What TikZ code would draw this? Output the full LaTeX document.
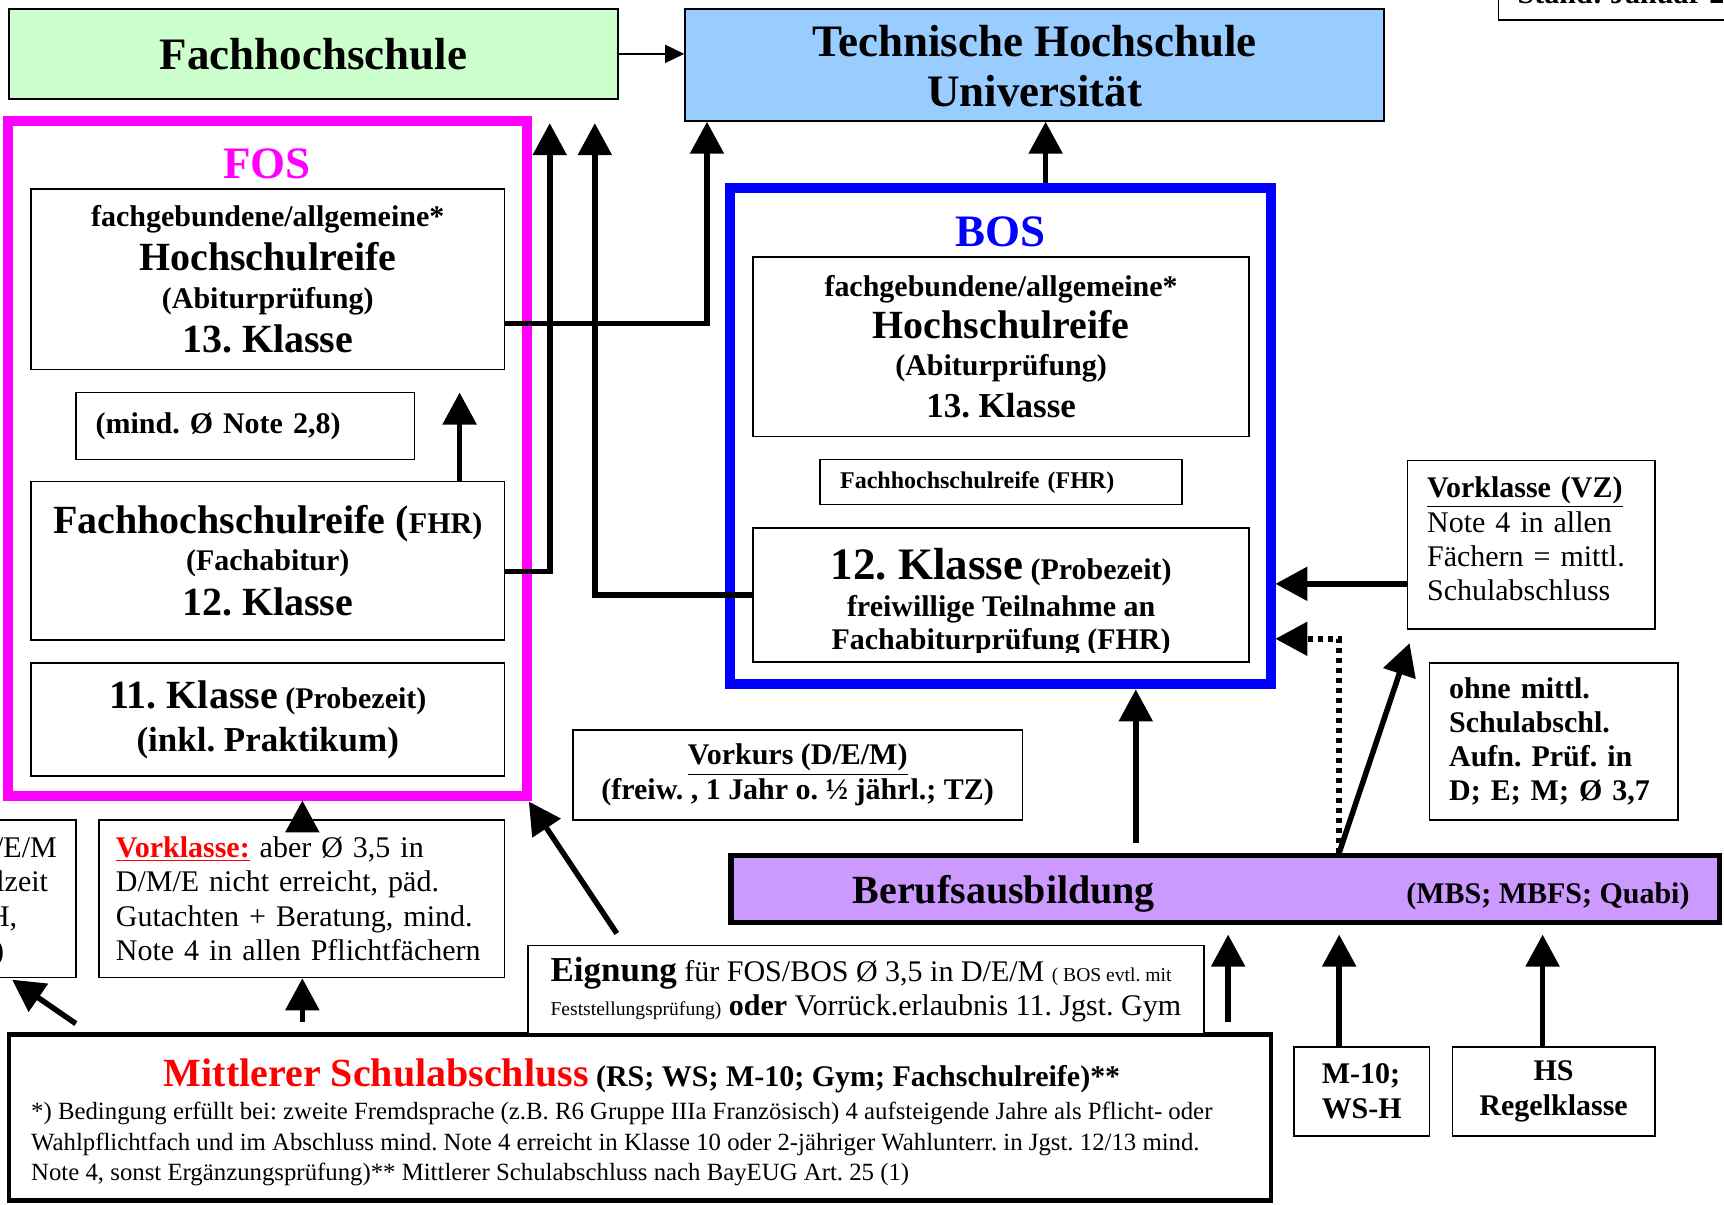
\documentclass[tikz,border=0pt]{standalone}
\usepackage{fontspec}
\setmainfont{Liberation Serif}
\frenchspacing
\usetikzlibrary{arrows.meta, positioning}
\definecolor{fhGreen}{HTML}{CCFFCC}
\definecolor{thBlue}{HTML}{99CCFF}
\definecolor{berufLila}{HTML}{CC99FF}
\definecolor{fosPink}{HTML}{FF00FF}
\definecolor{bosBlue}{HTML}{0000FF}
\newcommand{\fHuge}{\fontsize{22.5}{24.75}\selectfont\bfseries}
\newcommand{\fBig}{\fontsize{20}{22}\selectfont\bfseries}
\newcommand{\fMid}{\fontsize{15}{17}\selectfont\bfseries}
\newcommand{\fTxt}{\fontsize{15}{17.2}\selectfont}
\newcommand{\fFoot}{\fontsize{12.4}{15.1}\selectfont}
\newcommand{\fTiny}{\fontsize{9.8}{12}\selectfont}
\tikzset{
    schoolBox/.style={draw, line width=0.8pt, fill=white, inner sep=0pt, align=center},
    boxSize/.style 2 args={minimum width=#1*0.55pt, minimum height=#2*0.55pt},
    txt/.style={inner sep=0pt},
    bigArrow/.style={line width=2.75pt, -{Triangle[length=16pt, width=16.5pt]}},
    thinArrow/.style={line width=0.8pt, -{Triangle[length=9.5pt, width=9pt]}},
    dotArrow/.style={bigArrow, dash pattern=on 2.5pt off 2.5pt},
}

\begin{document}
\begin{tikzpicture}[x=0.55pt, y=-0.55pt]
    \path[use as bounding box, fill=white] (0,0) rectangle (1568,1095.1);

    \node[schoolBox, boxSize={554}{82}, fill=fhGreen, font=\fHuge] (fh) at (285,49) {Fachhochschule};
    \node[schoolBox, boxSize={636}{102}, fill=thBlue, font=\fHuge] (th) at (941,59) {\rule{0pt}{17pt}Technische Hochschule\\Universität};
    \node[schoolBox, boxSize={300}{60}, anchor=south west] (stand) at (1362,19) {};
    \node[txt, font=\fMid, anchor=base west] (standT) at (1380,3) {Stand: Januar 2};

    \node[draw=fosPink, line width=5pt, boxSize={472}{614}] (fos) at (243,417) {};
    \node[txt, text=fosPink, font=\fHuge] (fosT) at (243,149) {FOS};
    \node[schoolBox, boxSize={431}{164}, font=\fontsize{15}{19.25}\selectfont\bfseries] (fos13) at (243.5,254)
        {fachgebundene/allgemeine*\\[2.75pt]{\fBig Hochschulreife}\\(Abiturprüfung)\\[2.75pt]{\fBig 13. Klasse}};
    \node[schoolBox, boxSize={308}{61}, text width=149.6pt, align=left, font=\fMid] (mind) at (223,387.5) {(mind. Ø Note 2,8)};
    \node[schoolBox, boxSize={431}{144}, font=\fontsize{15}{18.15}\selectfont\bfseries] (fhr) at (243.5,510)
        {{\fBig Fachhochschulreife (}FHR)\\(Fachabitur)\\[4.4pt]{\fBig 12. Klasse}};
    \node[schoolBox, boxSize={431}{103}, font=\fontsize{15}{21.45}\selectfont\bfseries] (fos11) at (243.5,654.5)
        {{\fBig 11. Klasse} (Probezeit)\\{\fontsize{17.5}{20}\selectfont (inkl. Praktikum)}};

    \node[draw=bosBlue, line width=5pt, boxSize={492}{451}] (bos) at (910,396.5) {};
    \node[txt, text=bosBlue, font=\fHuge] (bosT) at (910,211) {BOS};
    \node[schoolBox, boxSize={451}{163}, font=\fontsize{15}{18.7}\selectfont\bfseries] (bos13) at (910.5,315.5)
        {fachgebundene/allgemeine*\\[2.2pt]{\fBig Hochschulreife}\\(Abiturprüfung)\\[2.2pt]{\fontsize{17.5}{20}\selectfont 13. Klasse}};
    \node[schoolBox, boxSize={329}{41}, text width=161pt, align=left, font=\fontsize{12}{14}\selectfont\bfseries] (fhrS) at (910.5,438.5) {Fachhochschulreife (FHR)};
    \node[schoolBox, boxSize={451}{122}] (bos12) at (910.5,541) {};
    \begin{scope}
        \clip (bos12.north west) rectangle (1136,593);
        \node[txt, anchor=north, align=center, font=\fontsize{15}{16.5}\selectfont\bfseries] (bos12T) at (910.5,498.4)
            {{\fHuge 12. Klasse} (Probezeit)\\[2.2pt]freiwillige Teilnahme an\\Fachabiturprüfung (FHR)};
    \end{scope}

    \node[schoolBox, boxSize={225}{153}, text width=104pt, align=left, font=\fTxt] (vz) at (1392.5,495.5)
        {{\bfseries\underline{Vorklasse (VZ)}}\\Note 4 in allen\\Fächern = mittl.\\Schulabschluss\rule[-6pt]{0pt}{6pt}};
    \node[schoolBox, boxSize={226}{143}, text width=104.5pt, align=left, font=\fontsize{15}{17}\selectfont\bfseries] (ohne) at (1413,674.5)
        {ohne mittl.\\Schulabschl.\\Aufn. Prüf. in\\D; E; M; Ø 3,7};
    \node[schoolBox, boxSize={409}{82}, font=\fontsize{15}{17.6}\selectfont\bfseries] (vork) at (725.5,705)
        {\underline{Vorkurs (D/E/M)}\\(freiw. , 1 Jahr o. ½ jährl.; TZ)};

    \node[draw, line width=2.75pt, fill=berufLila, boxSize={899}{61}] (beruf) at (1114.5,808.5) {};
    \node[txt, font=\fBig, anchor=base] (berufT) at (913,822) {Berufsausbildung};
    \node[txt, font=\fMid, anchor=base east] (berufS) at (1537,822) {(MBS; MBFS; Quabi)};

    \node[schoolBox, boxSize={369}{143}, text width=186pt, align=left, font=\fTxt] (vkl) at (274.5,817.5)
        {{\color{red}\bfseries\underline{Vorklasse:}} aber Ø 3,5 in\\D/M/E nicht erreicht, päd.\\Gutachten + Beratung, mind.\\Note 4 in allen Pflichtfächern};
    \node[schoolBox, boxSize={98}{143}] (lpart) at (20,817.5) {};
    \node[txt, font=\fTxt, anchor=base east] (lp1) at (52,780) {/E/M};
    \node[txt, font=\fTxt, anchor=base east] (lp2) at (44,811) {lzeit};
    \node[txt, font=\fTxt, anchor=base east] (lp3) at (16,843) {H,};
    \node[txt, font=\fTxt, anchor=base east] (lp4) at (4,874) {)};

    \node[draw, line width=2.2pt, fill=white, boxSize={1148}{151}] (mittl) at (582,1016.5) {};
    \node[txt, anchor=base, font=\fMid] (mittlT) at (584,988)
        {{\color{red}\fBig Mittlerer Schulabschluss} (RS; WS; M-10; Gym; Fachschulreife)**};
    \node[txt, anchor=north west, align=left, font=\fFoot] (mittlF) at (28,1002.3)
        {*) Bedingung erfüllt bei: zweite Fremdsprache (z.B. R6 Gruppe IIIa Französisch) 4 aufsteigende Jahre als Pflicht- oder\\
         Wahlpflichtfach und im Abschluss mind. Note 4 erreicht in Klasse 10 oder 2-jähriger Wahlunterr. in Jgst. 12/13 mind.\\
         Note 4, sonst Ergänzungsprüfung)** Mittlerer Schulabschluss nach BayEUG Art. 25 (1)};
    \node[schoolBox, boxSize={615}{80}, align=left, font=\fTxt] (eign) at (787.5,900)
        {{\fontsize{17.5}{17}\selectfont\bfseries Eignung} für FOS/BOS Ø 3,5 in D/E/M {\fTiny ( BOS evtl. mit}\\
         {\fTiny Feststellungsprüfung)} {\bfseries oder} Vorrück.erlaubnis 11. Jgst. Gym};

    \node[schoolBox, boxSize={123}{81}, align=left, font=\fontsize{15}{17.6}\selectfont\bfseries] (m10) at (1238.5,992.5) {M-10;\\WS-H};
    \node[schoolBox, boxSize={184}{81}, font=\fontsize{15}{17.6}\selectfont\bfseries] (hs) at (1413,992.5) {HS\\Regelklasse};

    \coordinate (k13) at (643,294);
    \coordinate (k12) at (500,520);
    \coordinate (fhTipA) at (500,112);
    \coordinate (kB) at (541,541);
    \coordinate (fhTipB) at (541,112);
    \coordinate (mindTip) at (418,357);
    \coordinate (kT) at (951,0);
    \coordinate (kV) at (1280,531);
    \coordinate (bosTipV) at (1160,531);
    \coordinate (kD) at (1218,581);
    \coordinate (bosTipD) at (1160,581);
    \coordinate (vzTip) at (1282,585);
    \coordinate (kC) at (1033,627);
    \coordinate (kE) at (1117,850);
    \coordinate (kM) at (1218,850);
    \coordinate (kH) at (1403,850);
    \coordinate (eTail) at (561,849);
    \coordinate (fosTip) at (481,729);
    \coordinate (fosB) at (275,728);
    \coordinate (lpTail) at (69,931);
    \coordinate (lpTip) at (11,891);

    \draw[thinArrow] (fh.east) -- (fh.east -| th.west);
    \draw[bigArrow] (fos13.east |- k13) -- (k13) -- (k13 |- th.south);
    \draw[bigArrow] (fhr.east |- k12) -- (k12) -- (fhTipA);
    \draw[bigArrow] (bos12.west |- kB) -- (kB) -- (fhTipB);
    \draw[bigArrow] (fhr.north -| mindTip) -- (mindTip);
    \draw[bigArrow] (bos.north -| kT) -- (th.south -| kT);
    \draw[bigArrow] (vz.west |- kV) -- (bosTipV);
    \draw[dotArrow] (beruf.north -| kD) -- (kD) -- (bosTipD);
    \draw[bigArrow] (beruf.north -| kD) -- (vzTip);
    \draw[bigArrow, shorten <=5pt] (beruf.north -| kC) -- (kC);
    \draw[bigArrow, shorten <=5pt] (mittl.north -| kE) -- (kE);
    \draw[bigArrow] (m10.north -| kM) -- (kM);
    \draw[bigArrow] (hs.north -| kH) -- (kH);
    \draw[bigArrow] (eTail) -- (fosTip);
    \draw[bigArrow] (vkl.north -| fosB) -- (fosB);
    \draw[bigArrow, shorten <=5pt] (mittl.north -| fosB) -- (vkl.south -| fosB);
    \draw[bigArrow] (lpTail) -- (lpTip);
\end{tikzpicture}
\end{document}
